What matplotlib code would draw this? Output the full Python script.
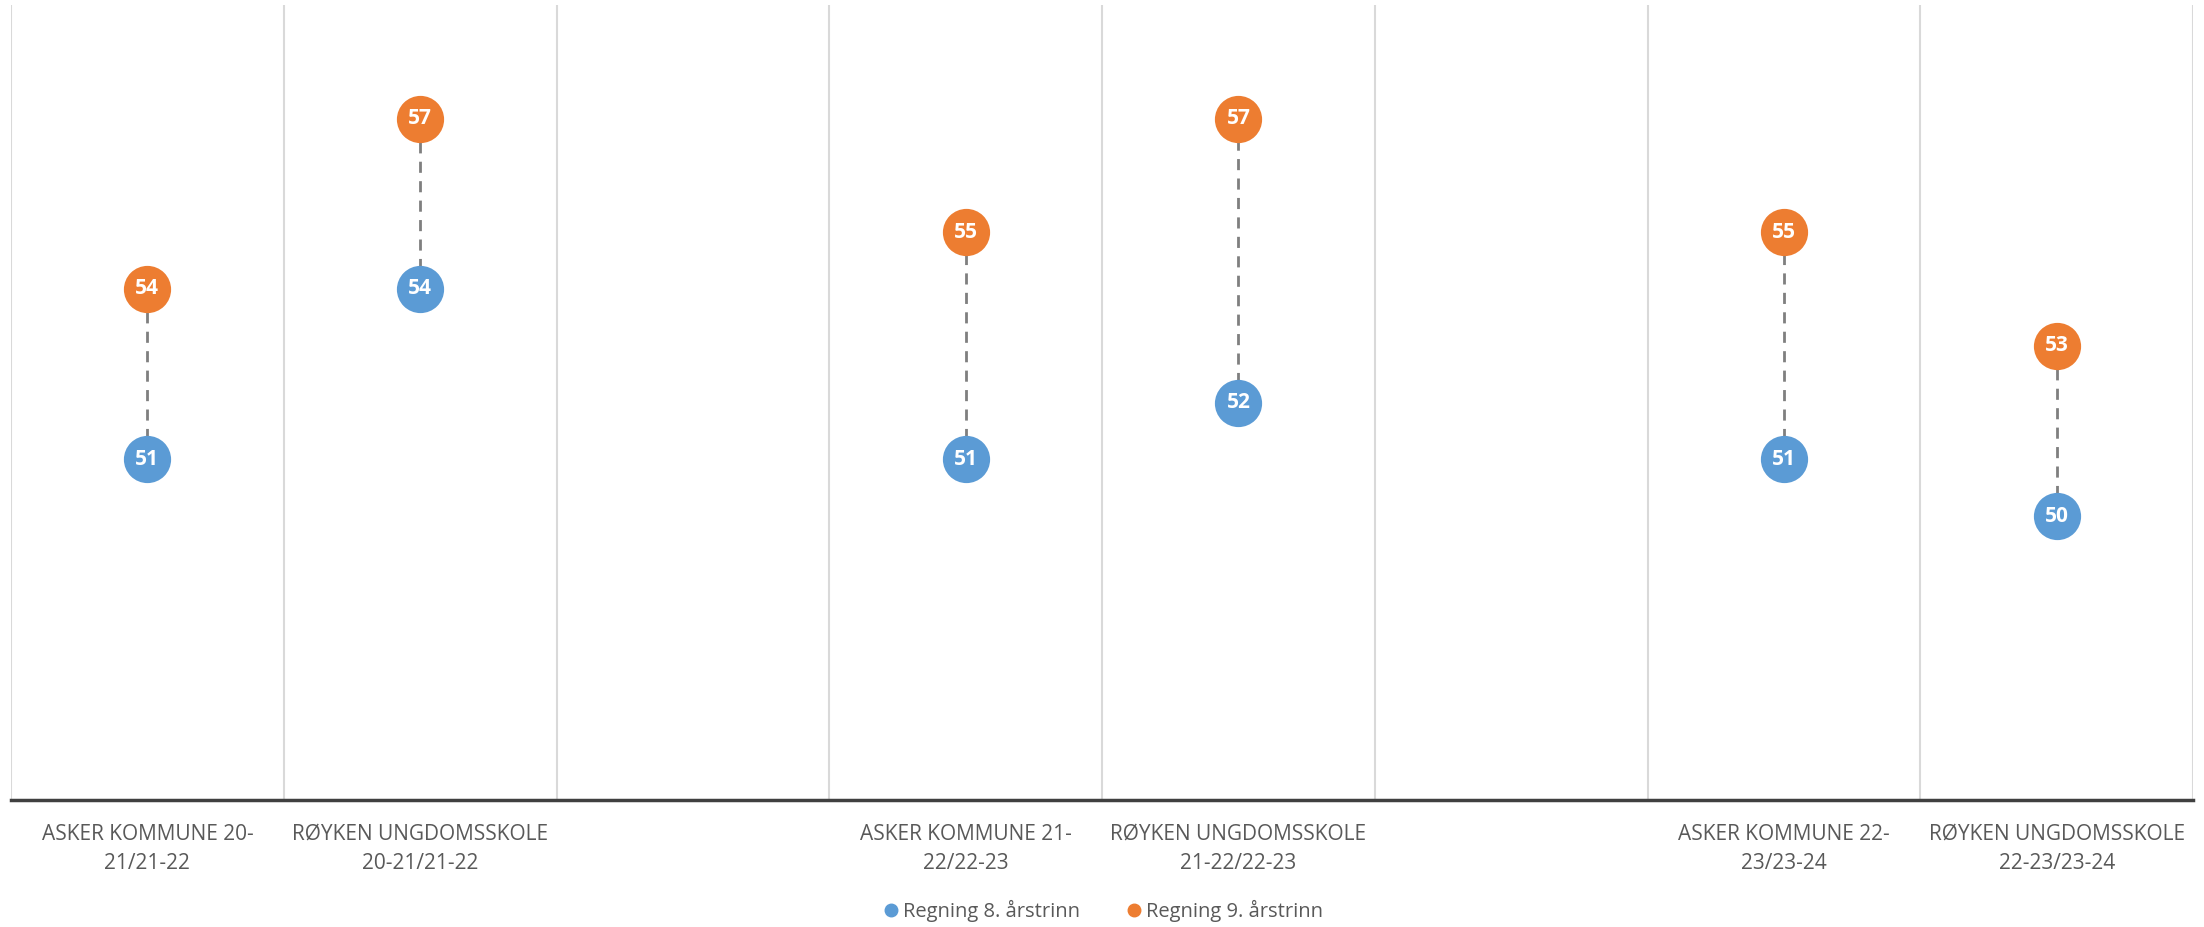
import matplotlib
matplotlib.use("Agg")
import matplotlib.pyplot as plt

categories = ["ASKER KOMMUNE 20-\n21/21-22", "RØYKEN UNGDOMSSKOLE\n20-21/21-22", "",
              "ASKER KOMMUNE 21-\n22/22-23", "RØYKEN UNGDOMSSKOLE\n21-22/22-23", "",
              "ASKER KOMMUNE 22-\n23/23-24", "RØYKEN UNGDOMSSKOLE\n22-23/23-24"]
regning8 = [51, 54, None, 51, 52, None, 51, 50]
regning9 = [54, 57, None, 55, 57, None, 55, 53]
series_names = ["Regning 8. årstrinn", "Regning 9. årstrinn"]

blue = "#5b9bd5"
orange = "#ed7d31"
text_col = "#595959"

plt.rcParams['font.family'] = ['Open Sans', 'DejaVu Sans']

W, H = 2204, 927
fig = plt.figure(figsize=(W / 100, H / 100), dpi=100)
left, right, top, bottom = 11, 2193, 5, 800
ax = fig.add_axes([left / W, (H - bottom) / H, (right - left) / W, (bottom - top) / H])

n = len(categories)
ax.set_xlim(-0.5, n - 0.5)
ax.set_ylim(45, 59)

for b in range(n + 1):
    ax.axvline(b - 0.5, color="#d9d9d9", lw=1.5, zorder=0)

for i in range(n):
    a, b = regning8[i], regning9[i]
    if a is None or b is None:
        continue
    ax.plot([i, i], [a, b], color="#7f7f7f", lw=2, ls=(0, (4, 3)), zorder=1)

for vals, col in ((regning8, blue), (regning9, orange)):
    for i, v in enumerate(vals):
        if v is None:
            continue
        ax.plot(i, v, marker="o", ms=34, color=col, mec="white", mew=0, zorder=3)
        ax.text(i, v, f"{v}", color="white", fontsize=15, fontweight="bold",
                ha="center", va="center", zorder=4)

for s in ["top", "left", "right"]:
    ax.spines[s].set_visible(False)
ax.spines["bottom"].set_color("#404040")
ax.spines["bottom"].set_linewidth(2.5)
ax.set_yticks([])
ax.set_xticks(range(n))
ax.set_xticklabels(categories, fontsize=15, color=text_col, linespacing=1.5)
ax.tick_params(axis="x", length=0, pad=17)

handles = [plt.Line2D([], [], marker="o", ls="", ms=9, color=c) for c in (blue, orange)]
fig.legend(handles, series_names, loc="center", bbox_to_anchor=(0.5, (H - 911) / H),
           ncol=2, frameon=False, fontsize=14.5, labelcolor=text_col,
           handletextpad=0.1, columnspacing=2.2, handlelength=1.0)

fig.savefig("out.png", dpi=100, facecolor="white")
